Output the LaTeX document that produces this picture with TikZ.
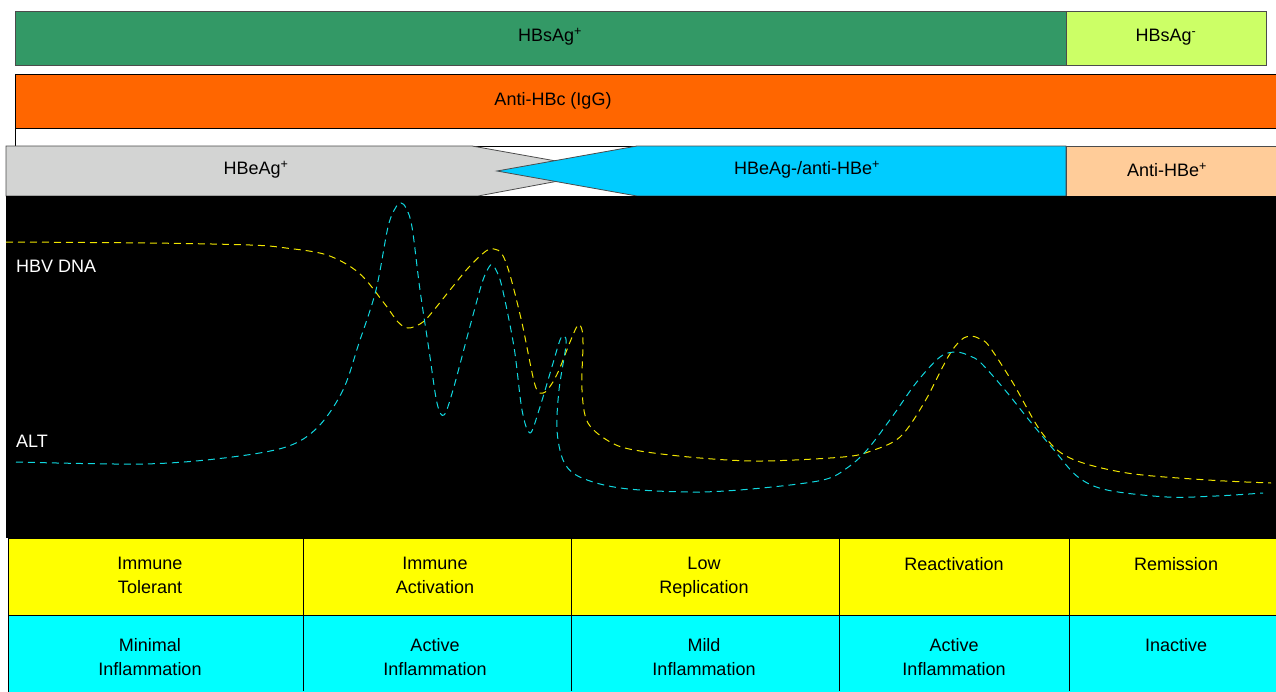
\documentclass[tikz,border=0pt]{standalone}
\usepackage{fontspec}
\setmainfont{Liberation Sans}
\usepackage{tikz}

\definecolor{hbsgreen}{HTML}{339966}
\definecolor{hbslime}{HTML}{CCFF66}
\definecolor{hbcorange}{HTML}{FF6600}
\definecolor{hbegrey}{HTML}{D3D4D3}
\definecolor{hbeblue}{HTML}{00CCFF}
\definecolor{hbepeach}{HTML}{FFCC99}
\definecolor{phaseyellow}{HTML}{FFFF00}
\definecolor{phasecyan}{HTML}{00FFFF}
\definecolor{dnayellow}{HTML}{F0E600}
\definecolor{altcyan}{HTML}{10D8E0}

\begin{document}
\begin{tikzpicture}[x=1pt, y=-1pt,
  lbl/.style={font=\fontsize{18}{24}\selectfont, align=center},
  bar/.style={draw=black!70, line width=0.8pt},
  cell/.style={draw=black, line width=0.7pt},
  curve/.style={line width=1pt, dash pattern=on 7pt off 5pt},
  phase/.style={lbl, anchor=north}]

\useasboundingbox (0,0) rectangle (1276,691);

% Draw the surface antigen bars
\filldraw[bar, fill=hbsgreen] (15,11) rectangle (1066,65);
\filldraw[bar, fill=hbslime] (1066,11) rectangle (1266,65);
\node[lbl] (hbspos) at (550,37) {HBsAg\textsuperscript{+}};
\node[lbl] (hbsneg) at (1166,37) {HBsAg\textsuperscript{-}};

% Draw the core antibody bar
\filldraw[bar, draw=black, fill=hbcorange] (15,74) rectangle (1280,128);
\draw[bar, draw=black] (15,128) rectangle (1280,146);
\node[lbl] (hbc) at (553,101) {Anti-HBc (IgG)};

% Draw the e antigen bars
\filldraw[bar, fill=hbegrey] (6,146) -- (472,146) -- (612,171) -- (478,196) -- (6,196) -- cycle;
\filldraw[bar, fill=hbeblue] (1066,146) -- (637,146) -- (497,171) -- (637,196) -- (1066,196) -- cycle;
\filldraw[bar, fill=hbepeach] (1066,146) rectangle (1280,196);
\node[lbl] (hbepos) at (256,170) {HBeAg\textsuperscript{+}};
\node[lbl] (hbeneg) at (807,170) {HBeAg-/anti-HBe\textsuperscript{+}};
\node[lbl] (antihbe) at (1167,170) {Anti-HBe\textsuperscript{+}};

% Draw the black plot area
\fill[black] (6,196) rectangle (1276,538);
\node[lbl, text=white, anchor=west, inner sep=0pt] (dnalbl) at (16,266) {HBV DNA};
\node[lbl, text=white, anchor=west, inner sep=0pt] (altlbl) at (16,441) {ALT};

% HBV DNA curve
\draw[curve, dnayellow] plot[smooth, tension=0.55] coordinates {
  (6,242) (150,243) (250,245) (286,248) (327,255) (359,273) (384,303)
  (398,322) (408,328) (420,324) (429,316) (450,290) (469,267) (486,251)
  (494,249) (502,254) (510,275) (522,323) (535,385) (543,393) (551,385)
  (559,370) (570,342) (578,325) (582,330) (583,345) (582,390) (588,423)
  (612,443) (640,451) (700,458) (762,461) (843,457) (871,451) (900,437)
  (924,403) (948,357) (961,340) (971,336) (980,339) (989,346) (1013,383)
  (1042,433) (1070,458) (1127,473) (1208,480) (1271,483)};

% ALT curve
\draw[curve, altcyan] plot[smooth, tension=0.55] coordinates {
  (16,462) (143,464) (224,458) (286,447) (318,427) (343,390) (359,343)
  (376,290) (388,227) (396,207) (401,203) (406,208) (412,227) (420,290)
  (429,350) (437,403) (444,415) (453,390) (469,330) (482,283) (489,267)
  (492,265) (496,270) (502,287) (514,347) (522,410) (530,433) (539,410)
  (551,370) (560,340) (564,336) (566,345) (559,390) (557,430) (563,460)
  (576,475) (604,485) (640,490) (701,492) (762,488) (823,480) (847,468)
  (867,450) (892,417) (916,383) (940,357) (956,352) (970,356) (981,363)
  (1005,390) (1029,420) (1054,450) (1078,477) (1107,490) (1167,497)
  (1216,496) (1263,493)};

% Draw the phase table
\filldraw[cell, fill=phaseyellow] (8,538) rectangle (1280,615);
\filldraw[cell, fill=phasecyan] (8,615) rectangle (1280,695);
\foreach \xc in {303,571,839,1069}
  \draw[cell] (\xc,538) -- (\xc,691);

\node[phase] (tolerant) at (150,554) {Immune\\Tolerant};
\node[phase] (activation) at (435,554) {Immune\\Activation};
\node[phase] (lowrep) at (704,554) {Low\\Replication};
\node[phase] (reactivation) at (954,554) {Reactivation};
\node[phase] (remission) at (1176,554) {Remission};

\node[phase] (minimal) at (150,635) {Minimal\\Inflammation};
\node[phase] (active) at (435,635) {Active\\Inflammation};
\node[phase] (mild) at (704,635) {Mild\\Inflammation};
\node[phase] (reactive) at (954,635) {Active\\Inflammation};
\node[phase] (inactive) at (1176,635) {Inactive};

\end{tikzpicture}
\end{document}
